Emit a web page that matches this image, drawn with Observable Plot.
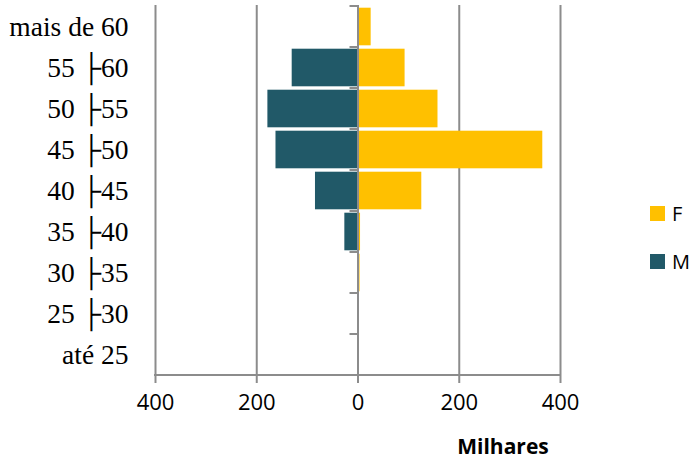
<!DOCTYPE html>
<html>
<head>
<meta charset="utf-8">
<script src="https://cdn.jsdelivr.net/npm/d3@7"></script>
<script src="https://cdn.jsdelivr.net/npm/@observablehq/plot@0.6"></script>
<style>
  html, body { margin: 0; padding: 0; background: #fff; }
  #wrap { position: relative; width: 693px; height: 467px; }
  #legend { position: absolute; left: 650px; top: 200px; font-family: "Open Sans", sans-serif; font-size: 20px; color: #000; }
  .item { position: absolute; left: 0; white-space: nowrap; display: flex; align-items: center; }
  .sw { width: 15px; height: 15px; display: inline-block; margin-right: 7px; }
  #xlabel { position: absolute; left: 503px; top: 432px; transform: translateX(-50%); font-family: "Open Sans", sans-serif; font-weight: bold; font-size: 21px; color: #000; }
</style>
</head>
<body>
<div id="wrap"></div>
<script>
// Data
const categories = ["mais de 60", "55 \u251c60", "50 \u251c55", "45 \u251c50", "40 \u251c45", "35 \u251c40", "30 \u251c35", "25 \u251c30", "até 25"];
const female = [26, 93, 158, 365, 126, 5, 4, 0, 0];
const male   = [0, 130, 178, 162, 84, 26, 0, 0, 0];
const xTicks = [-400, -200, 0, 200, 400];
const seriesNames = ["F", "M"];
const seriesColors = ["#FFC000", "#215968"];
const xTitle = "Milhares";

const GRID = "#8c8c8c";

const rows = categories.flatMap((c, i) => [
  {cat: c, sex: "F", v: female[i]},
  {cat: c, sex: "M", v: -male[i]}
]);

const axisExtras = (index, scales, values, dim) => {
  const g = d3.create("svg:g").attr("stroke", GRID).attr("stroke-width", 2);
  const x0 = scales.x(0);
  const yb = dim.height - dim.marginBottom;
  g.append("line")
    .attr("x1", scales.x(xTicks[0]) - 1).attr("x2", scales.x(xTicks[xTicks.length - 1]) + 1)
    .attr("y1", yb).attr("y2", yb);
  for (const c of categories) {
    const yy = scales.y(c);
    g.append("line").attr("x1", x0 - 8).attr("x2", x0).attr("y1", yy).attr("y2", yy);
  }
  return g.node();
};

const chart = Plot.plot({
  width: 693,
  height: 467,
  marginLeft: 155,
  marginRight: 133,
  marginTop: 5,
  marginBottom: 92,
  x: {domain: [xTicks[0], xTicks[xTicks.length - 1]]},
  y: {domain: categories, padding: 0},
  color: {domain: seriesNames, range: seriesColors},
  marks: [
    Plot.ruleX(xTicks.filter(d => d !== 0), {stroke: GRID, strokeWidth: 2}),
    Plot.barX(rows, {y: "cat", x: "v", fill: "sex", insetTop: 1.7, insetBottom: 1.7}),
    Plot.ruleX([0], {stroke: GRID, strokeWidth: 2}),
    axisExtras,
    Plot.axisX({ticks: xTicks, tickFormat: d => Math.abs(d), tickSize: 8, tickPadding: 11,
      stroke: GRID, strokeWidth: 2, fill: "#000", fontSize: 22, fontFamily: "Open Sans", label: null}),
    Plot.axisY({tickSize: 0, tickPadding: 27, fill: "#000", fontSize: 27.5,
      fontFamily: "Liberation Serif", label: null})
  ]
});
chart.style.fontFamily = "Open Sans";
const wrap = document.getElementById("wrap");
wrap.appendChild(chart);

const legend = document.createElement("div");
legend.id = "legend";
seriesNames.forEach((name, i) => {
  const it = document.createElement("div");
  it.className = "item";
  it.style.top = (i * 48) + "px";
  const sw = document.createElement("span");
  sw.className = "sw";
  sw.style.background = seriesColors[i];
  it.appendChild(sw);
  it.appendChild(document.createTextNode(name));
  legend.appendChild(it);
});
wrap.appendChild(legend);

const xl = document.createElement("div");
xl.id = "xlabel";
xl.textContent = xTitle;
wrap.appendChild(xl);
</script>
</body>
</html>
